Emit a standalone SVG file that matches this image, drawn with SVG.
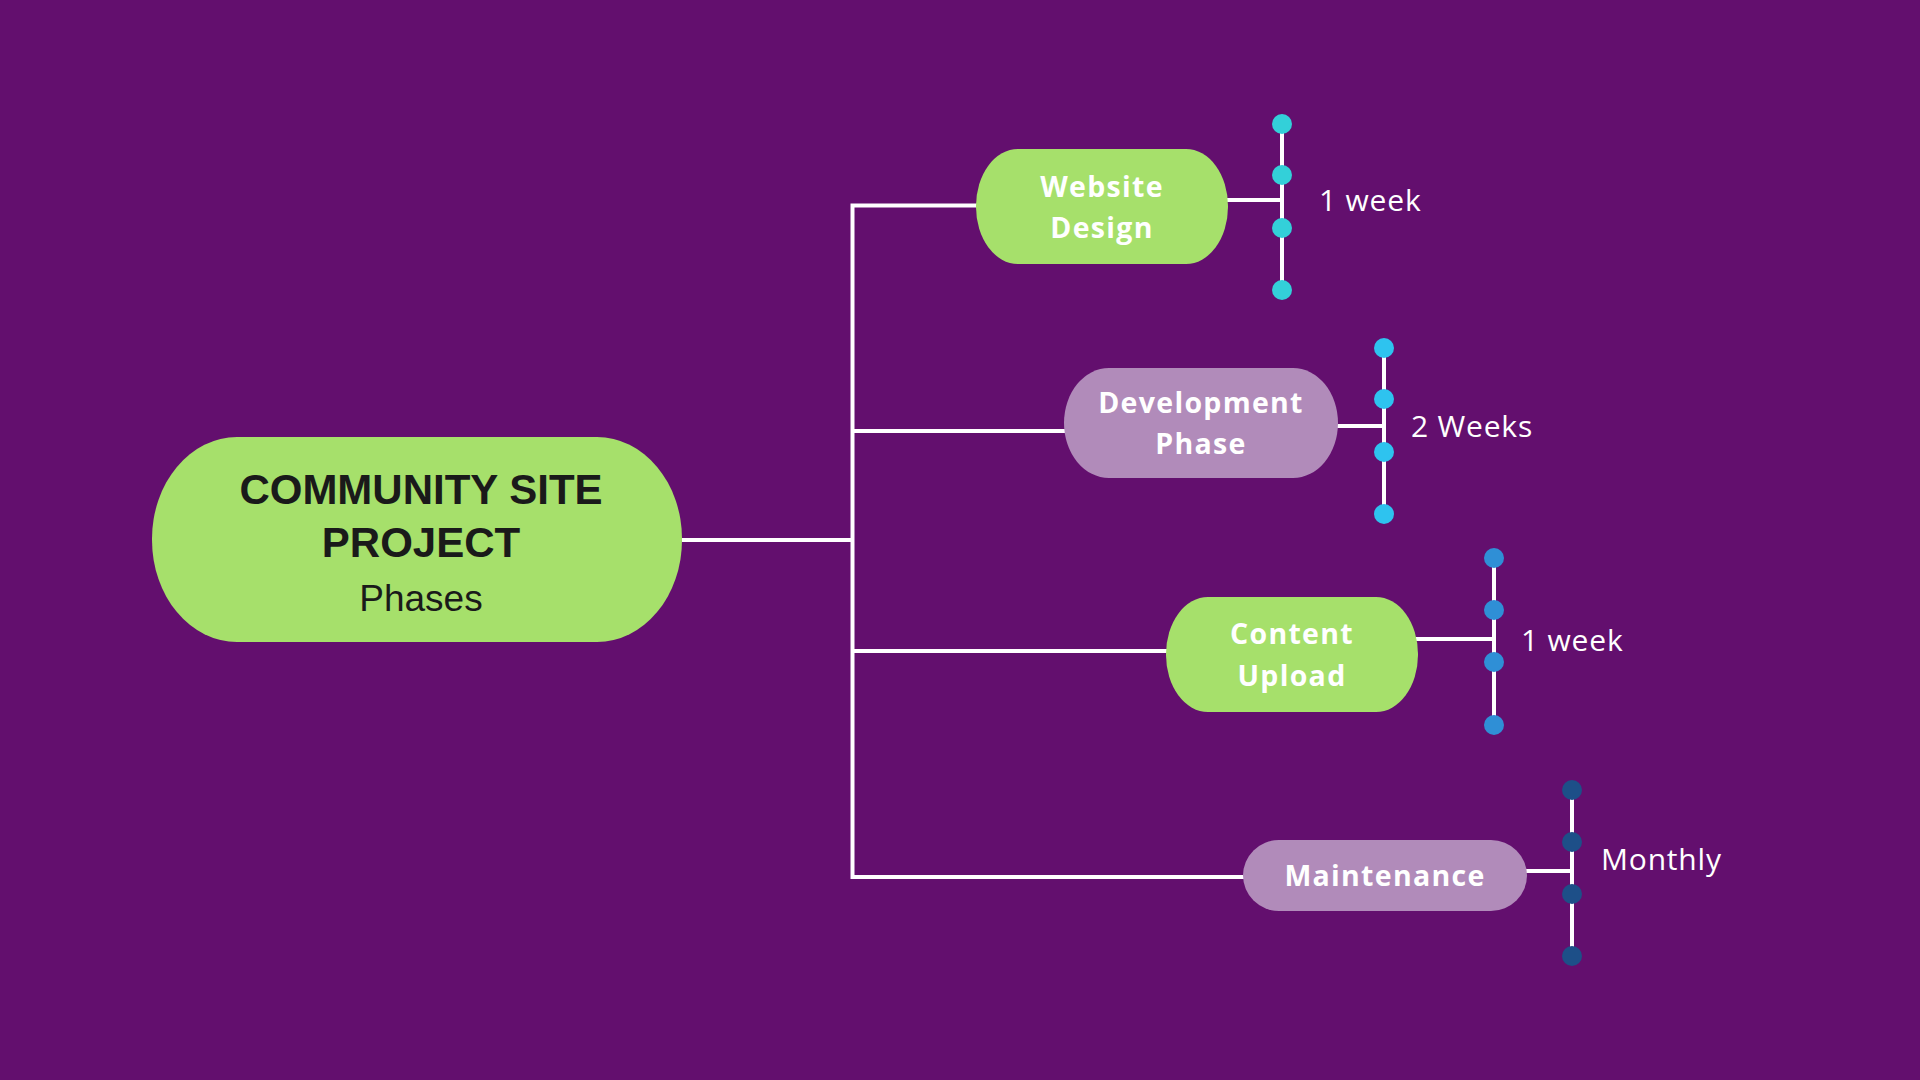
<svg xmlns="http://www.w3.org/2000/svg" width="1920" height="1080" viewBox="0 0 1920 1080">
<style>
.ln{stroke:#ffffff;stroke-width:4;fill:none}
.green{fill:#a6e06b}
.mauve{fill:#b18bba}
.title{font-family:"Liberation Sans",Arial,sans-serif;font-weight:700;font-size:42px;fill:#1a1a1a;text-anchor:middle}
.sub{font-family:"Liberation Sans",Arial,sans-serif;font-size:37px;fill:#1a1a1a;text-anchor:middle}
.nt{font-family:"Open Sans","Noto Sans",sans-serif;font-weight:700;font-size:28.5px;fill:#ffffff;text-anchor:middle;letter-spacing:1.3px}
.lab{font-family:"Open Sans","Noto Sans",sans-serif;font-size:30px;fill:#ffffff;letter-spacing:0.8px}
.d1{fill:#33d0d9}
.d2{fill:#2ec3ef}
.d3{fill:#2f8fd6}
.d4{fill:#1d4f88}
</style>
<rect width="1920" height="1080" fill="#630f6e"/>
<g id="connectors">
<path class="ln" d="M682 540 H852.5 M852.5 203.5 V879 M850.5 205.5 H980 M852.5 431 H1068 M852.5 651 H1170 M850.5 877 H1248"/>
<path class="ln" d="M1226 200 H1282 M1282 124 V290"/>
<path class="ln" d="M1336 426 H1384 M1384 348 V514"/>
<path class="ln" d="M1416 639 H1494 M1494 558 V725"/>
<path class="ln" d="M1525 871 H1572 M1572 790 V956"/>
</g>
<g id="root">
<rect x="152" y="437" width="530" height="205" rx="85" ry="102" class="green"/>
<text class="title" x="421" y="504">COMMUNITY SITE</text>
<text class="title" x="421" y="557">PROJECT</text>
<text class="sub" x="421" y="611">Phases</text>
</g>
<g id="website-design">
<rect x="976" y="149" width="252" height="115" rx="42" ry="57" class="green"/>
<text class="nt" x="1102" y="197">Website</text>
<text class="nt" x="1102" y="238">Design</text>
</g>
<g id="website-dots">
<circle class="d1" cx="1282" cy="124" r="10"/><circle class="d1" cx="1282" cy="175" r="10"/><circle class="d1" cx="1282" cy="228" r="10"/><circle class="d1" cx="1282" cy="290" r="10"/>
<text class="lab" x="1319" y="211">1 week</text>
</g>
<g id="development-phase">
<rect x="1064" y="368" width="274" height="110" rx="45" ry="55" class="mauve"/>
<text class="nt" x="1201" y="413">Development</text>
<text class="nt" x="1201" y="454">Phase</text>
</g>
<g id="development-dots">
<circle class="d2" cx="1384" cy="348" r="10"/><circle class="d2" cx="1384" cy="399" r="10"/><circle class="d2" cx="1384" cy="452" r="10"/><circle class="d2" cx="1384" cy="514" r="10"/>
<text class="lab" x="1411" y="437">2 Weeks</text>
</g>
<g id="content-upload">
<rect x="1166" y="597" width="252" height="115" rx="42" ry="57" class="green"/>
<text class="nt" x="1292" y="644">Content</text>
<text class="nt" x="1292" y="686">Upload</text>
</g>
<g id="content-dots">
<circle class="d3" cx="1494" cy="558" r="10"/><circle class="d3" cx="1494" cy="610" r="10"/><circle class="d3" cx="1494" cy="662" r="10"/><circle class="d3" cx="1494" cy="725" r="10"/>
<text class="lab" x="1521" y="651">1 week</text>
</g>
<g id="maintenance">
<rect x="1243" y="840" width="284" height="71" rx="36" ry="36" class="mauve"/>
<text class="nt" x="1385" y="886">Maintenance</text>
</g>
<g id="maintenance-dots">
<circle class="d4" cx="1572" cy="790" r="10"/><circle class="d4" cx="1572" cy="842" r="10"/><circle class="d4" cx="1572" cy="894" r="10"/><circle class="d4" cx="1572" cy="956" r="10"/>
<text class="lab" x="1601" y="870">Monthly</text>
</g>
</svg>
